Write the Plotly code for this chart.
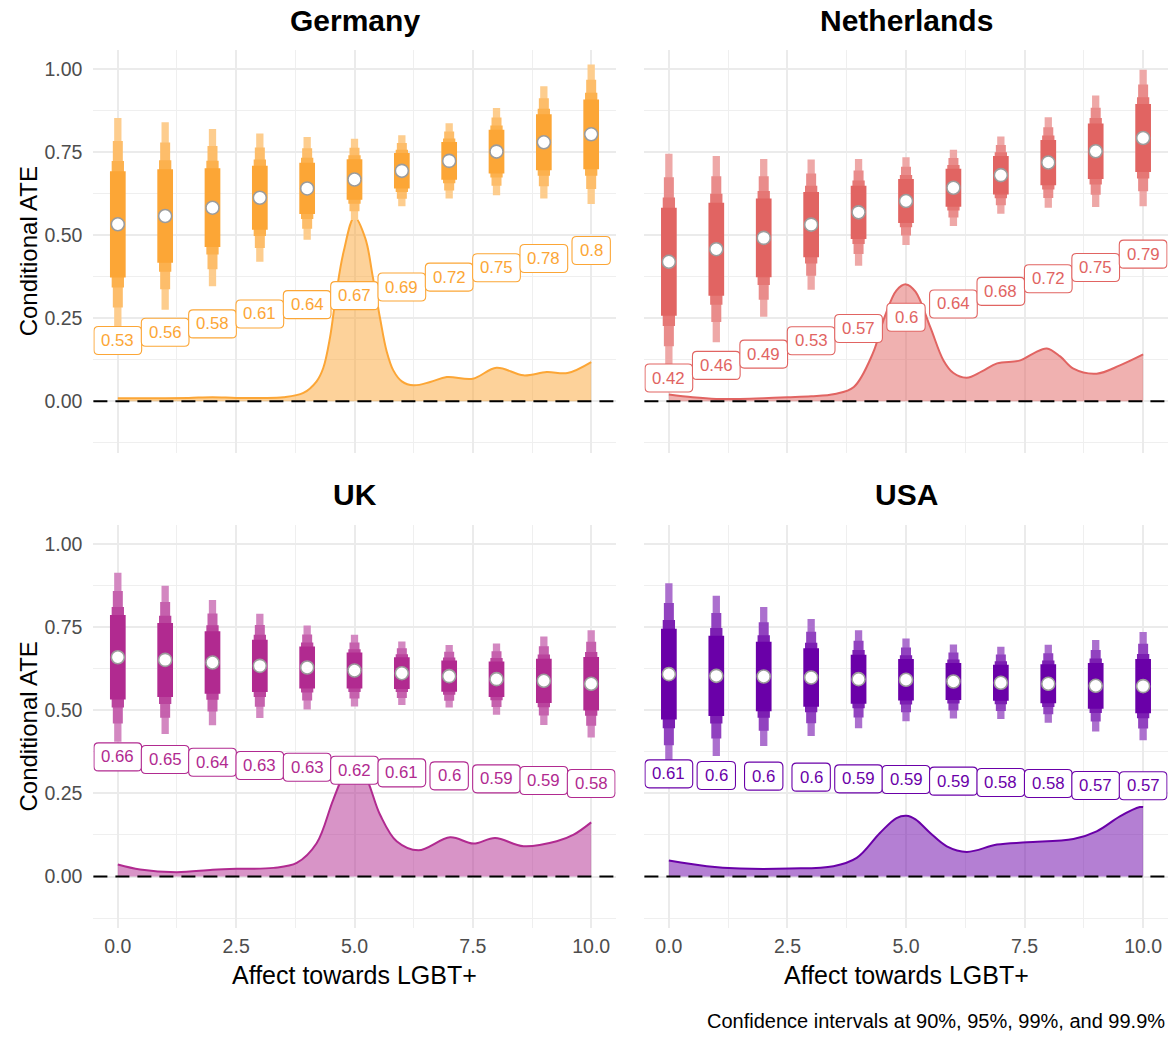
import plotly.graph_objects as go

# ---------------------------------------------------------------- data
countries = ["Germany", "Netherlands", "UK", "USA"]
affect = [0, 1, 2, 3, 4, 5, 6, 7, 8, 9, 10]

# conditional ATE point estimates and their standard errors
ate_germany = [0.533, 0.558, 0.583, 0.613, 0.641, 0.668, 0.694, 0.724, 0.752, 0.780, 0.804]
se_germany = [0.0973, 0.0858, 0.0720, 0.0587, 0.0470, 0.0372, 0.0325, 0.0345, 0.0400, 0.0514, 0.0638]

ate_netherlands = [0.420, 0.458, 0.492, 0.532, 0.569, 0.603, 0.643, 0.681, 0.719, 0.753, 0.793]
se_netherlands = [0.0988, 0.0852, 0.0722, 0.0597, 0.0488, 0.0402, 0.0349, 0.0353, 0.0414, 0.0510, 0.0624]

ate_uk = [0.660, 0.652, 0.644, 0.634, 0.629, 0.620, 0.612, 0.603, 0.594, 0.589, 0.580]
se_uk = [0.0773, 0.0677, 0.0573, 0.0477, 0.0385, 0.0328, 0.0290, 0.0286, 0.0325, 0.0405, 0.0490]

ate_usa = [0.609, 0.604, 0.602, 0.599, 0.594, 0.592, 0.587, 0.583, 0.580, 0.574, 0.573]
se_usa = [0.0831, 0.0733, 0.0635, 0.0535, 0.0448, 0.0379, 0.0338, 0.0330, 0.0357, 0.0418, 0.0495]

# scaled density of the moderator (affect towards LGBT+)
dens_x_germany = [0, 0.5, 1, 1.5, 2, 2.5, 3, 3.5, 3.92, 4.2, 4.34, 4.48, 4.62, 4.77, 5.0,
                  5.23, 5.38, 5.54, 5.68, 5.82, 6.0, 6.25, 6.6, 6.95, 7.5, 8.0, 8.57, 9.06, 9.5, 10]
dens_y_germany = [0.009, 0.009, 0.009, 0.010, 0.012, 0.010, 0.010, 0.012, 0.025, 0.060, 0.100, 0.190, 0.330, 0.450, 0.555,
                  0.490, 0.380, 0.250, 0.150, 0.093, 0.060, 0.048, 0.058, 0.073, 0.068, 0.101, 0.078, 0.088, 0.085, 0.118]

dens_x_netherlands = [0, 0.5, 1, 1.5, 2, 2.5, 3, 3.5, 3.9, 4.3, 4.55, 4.8, 5.0, 5.2, 5.51, 5.79,
                      6.0, 6.28, 6.6, 6.92, 7.41, 7.7, 7.97, 8.25, 8.53, 9.02, 9.51, 10]
dens_y_netherlands = [0.020, 0.012, 0.007, 0.007, 0.009, 0.012, 0.015, 0.022, 0.043, 0.144, 0.254, 0.334, 0.352, 0.330, 0.224, 0.123,
                      0.085, 0.071, 0.090, 0.114, 0.123, 0.145, 0.159, 0.135, 0.098, 0.083, 0.108, 0.141]

dens_x_uk = [0, 0.47, 1.24, 2.0, 2.51, 3.29, 3.78, 4.2, 4.55, 4.8, 5.0, 5.2, 5.54, 5.89, 6.35,
             7.02, 7.51, 7.97, 8.57, 9.27, 9.63, 10]
dens_y_uk = [0.036, 0.021, 0.013, 0.020, 0.023, 0.026, 0.041, 0.100, 0.231, 0.310, 0.330, 0.310, 0.186, 0.106, 0.079,
             0.118, 0.099, 0.116, 0.091, 0.106, 0.126, 0.163]

dens_x_usa = [0, 0.8, 1.5, 2.55, 3.47, 3.96, 4.45, 4.8, 5.01, 5.2, 5.51, 5.86, 6.28, 6.92, 7.55,
              8.53, 9.02, 9.51, 9.93, 10]
dens_y_usa = [0.048, 0.031, 0.024, 0.024, 0.031, 0.056, 0.131, 0.176, 0.183, 0.172, 0.131, 0.091, 0.074, 0.096, 0.103,
              0.113, 0.136, 0.181, 0.209, 0.209]

ci_levels = ["90%", "95%", "99%", "99.9%"]
ci_z = [1.645, 1.960, 2.576, 3.291]

# ---------------------------------------------------------------- styling
FONT = "Liberation Sans, Arial, Helvetica, sans-serif"
W, H = 1174, 1039

panel_colors = {"Germany": "#FCA636", "Netherlands": "#E16462", "UK": "#B12A90", "USA": "#6A00A8"}
# share of the panel colour kept for each interval band (rest is white)
band_strength = {"90%": 1.0, "95%": 0.88, "99%": 0.74, "99.9%": 0.56}
band_width_px = {"90%": 15.7, "95%": 12.3, "99%": 10.0, "99.9%": 7.3}
label_drop = {"Germany": 0.35, "Netherlands": 0.35, "UK": 0.30, "USA": 0.30}

X_RANGE = [-0.516, 10.516]
Y_RANGE = [-0.155, 1.058]

# panel rectangles in pixels: (left, right, top, bottom)
panels = {
    "Germany": (93.4, 615.6, 50.0, 452.7),
    "Netherlands": (644.4, 1167.6, 50.0, 452.7),
    "UK": (93.4, 615.6, 525.0, 928.0),
    "USA": (644.4, 1167.6, 525.0, 928.0),
}

series = {
    "Germany": (ate_germany, se_germany, dens_x_germany, dens_y_germany),
    "Netherlands": (ate_netherlands, se_netherlands, dens_x_netherlands, dens_y_netherlands),
    "UK": (ate_uk, se_uk, dens_x_uk, dens_y_uk),
    "USA": (ate_usa, se_usa, dens_x_usa, dens_y_usa),
}


def hex_rgb(h):
    h = h.lstrip("#")
    return tuple(int(h[i:i + 2], 16) for i in (0, 2, 4))


def tint(h, f):
    r, g, b = hex_rgb(h)
    return "rgb({:.0f},{:.0f},{:.0f})".format(r * f + 255 * (1 - f), g * f + 255 * (1 - f), b * f + 255 * (1 - f))


def rgba(h, a):
    r, g, b = hex_rgb(h)
    return f"rgba({r},{g},{b},{a})"


def fmt(v):
    return f"{round(v, 2):g}"


def rounded_box(w, h, r):
    hw, hh = w / 2, h / 2
    return (f"M {-hw + r},{-hh} L {hw - r},{-hh} Q {hw},{-hh} {hw},{-hh + r} "
            f"L {hw},{hh - r} Q {hw},{hh} {hw - r},{hh} "
            f"L {-hw + r},{hh} Q {-hw},{hh} {-hw},{hh - r} "
            f"L {-hw},{-hh + r} Q {-hw},{-hh} {-hw + r},{-hh} Z")


fig = go.Figure()
shapes = []
annotations = []
layout_axes = {}

LABEL_FS = 16.8

for i, country in enumerate(countries):
    n = i + 1
    xa = "x" if n == 1 else f"x{n}"
    ya = "y" if n == 1 else f"y{n}"
    col = panel_colors[country]
    ate, se, dx, dy = series[country]
    left, right, top, bottom = panels[country]

    # density of the moderator
    fig.add_trace(go.Scatter(
        x=dx, y=dy, mode="lines", xaxis=xa, yaxis=ya,
        line=dict(color=col, width=2, shape="spline", smoothing=1.0),
        fill="tozeroy", fillcolor=rgba(col, 0.5), hoverinfo="skip", showlegend=False))

    # interval bands, widest interval first
    for lvl, z in reversed(list(zip(ci_levels, ci_z))):
        xs, ys = [], []
        for a, m, s in zip(affect, ate, se):
            xs += [a, a, None]
            ys += [m - z * s, m + z * s, None]
        fig.add_trace(go.Scatter(
            x=xs, y=ys, mode="lines", xaxis=xa, yaxis=ya,
            line=dict(color=tint(col, band_strength[lvl]), width=band_width_px[lvl]),
            hoverinfo="skip", showlegend=False, name=lvl))

    # point estimates
    fig.add_trace(go.Scatter(
        x=affect, y=ate, mode="markers", xaxis=xa, yaxis=ya,
        marker=dict(size=13, color="white", line=dict(color="#9C9C9C", width=1.6)),
        showlegend=False))

    # zero reference line
    shapes.append(dict(type="line", xref=f"{xa} domain", yref=ya, x0=0, x1=1, y0=0, y1=0,
                       line=dict(color="black", width=2, dash="14px,8px"), layer="above"))

    # value labels in rounded boxes
    for a, m in zip(affect, ate):
        txt = fmt(m)
        tw = sum(0.278 if ch == "." else 0.556 for ch in txt) * LABEL_FS
        ly = m - label_drop[country]
        shapes.append(dict(type="path", xref=xa, yref=ya, xsizemode="pixel", ysizemode="pixel",
                           xanchor=a, yanchor=ly, path=rounded_box(tw + 15, 28, 4.5),
                           fillcolor="white", line=dict(color=col, width=1.1), layer="above"))
        annotations.append(dict(x=a, y=ly, xref=xa, yref=ya, text=txt, showarrow=False,
                                font=dict(family=FONT, size=LABEL_FS, color=col)))

    # facet title
    annotations.append(dict(x=(left + right) / 2 / W, y=1 - (top - 30) / H, xref="paper", yref="paper",
                            text=f"<b>{country}</b>", showarrow=False,
                            font=dict(family=FONT, size=30, color="black"),
                            xanchor="center", yanchor="middle"))

    is_left = country in ("Germany", "UK")
    is_bottom = country in ("UK", "USA")
    layout_axes["xaxis" if n == 1 else f"xaxis{n}"] = dict(
        domain=[left / W, right / W], range=X_RANGE, anchor=ya,
        tickmode="linear", tick0=0, dtick=2.5, tickformat=".1f",
        showticklabels=is_bottom, ticks="", showline=False, zeroline=False,
        showgrid=True, gridcolor="#EBEBEB", gridwidth=2,
        minor=dict(showgrid=True, tick0=1.25, dtick=2.5, gridcolor="#EFEFEF", gridwidth=1),
        tickfont=dict(family=FONT, size=19.5, color="#4D4D4D"), ticklabelstandoff=4,
        fixedrange=True)
    layout_axes["yaxis" if n == 1 else f"yaxis{n}"] = dict(
        domain=[1 - bottom / H, 1 - top / H], range=Y_RANGE, anchor=xa,
        tickmode="linear", tick0=0, dtick=0.25, tickformat=".2f",
        showticklabels=is_left, ticks="", showline=False, zeroline=False,
        showgrid=True, gridcolor="#EBEBEB", gridwidth=2,
        minor=dict(showgrid=True, tick0=0.125, dtick=0.25, gridcolor="#EFEFEF", gridwidth=1),
        tickfont=dict(family=FONT, size=19.5, color="#4D4D4D"), ticklabelstandoff=10,
        fixedrange=True)

    if is_left:
        annotations.append(dict(x=28 / W, y=1 - (top + bottom) / 2 / H, xref="paper", yref="paper",
                                text="Conditional ATE", textangle=-90, showarrow=False,
                                font=dict(family=FONT, size=24, color="black"),
                                xanchor="center", yanchor="middle"))
    if is_bottom:
        annotations.append(dict(x=(left + right) / 2 / W, y=1 - 975 / H, xref="paper", yref="paper",
                                text="Affect towards LGBT+", showarrow=False,
                                font=dict(family=FONT, size=25, color="black"),
                                xanchor="center", yanchor="middle"))

annotations.append(dict(x=1167 / W, y=1 - 1021 / H, xref="paper", yref="paper",
                        text="Confidence intervals at 90%, 95%, 99%, and 99.9%", showarrow=False,
                        font=dict(family=FONT, size=20, color="black"),
                        xanchor="right", yanchor="middle"))

fig.update_layout(
    width=W, height=H,
    margin=dict(l=0, r=0, t=0, b=0),
    paper_bgcolor="white", plot_bgcolor="white",
    showlegend=False,
    font=dict(family=FONT),
    shapes=shapes,
    annotations=annotations,
    **layout_axes,
)

fig.write_html("out.html", config={"displayModeBar": False})
